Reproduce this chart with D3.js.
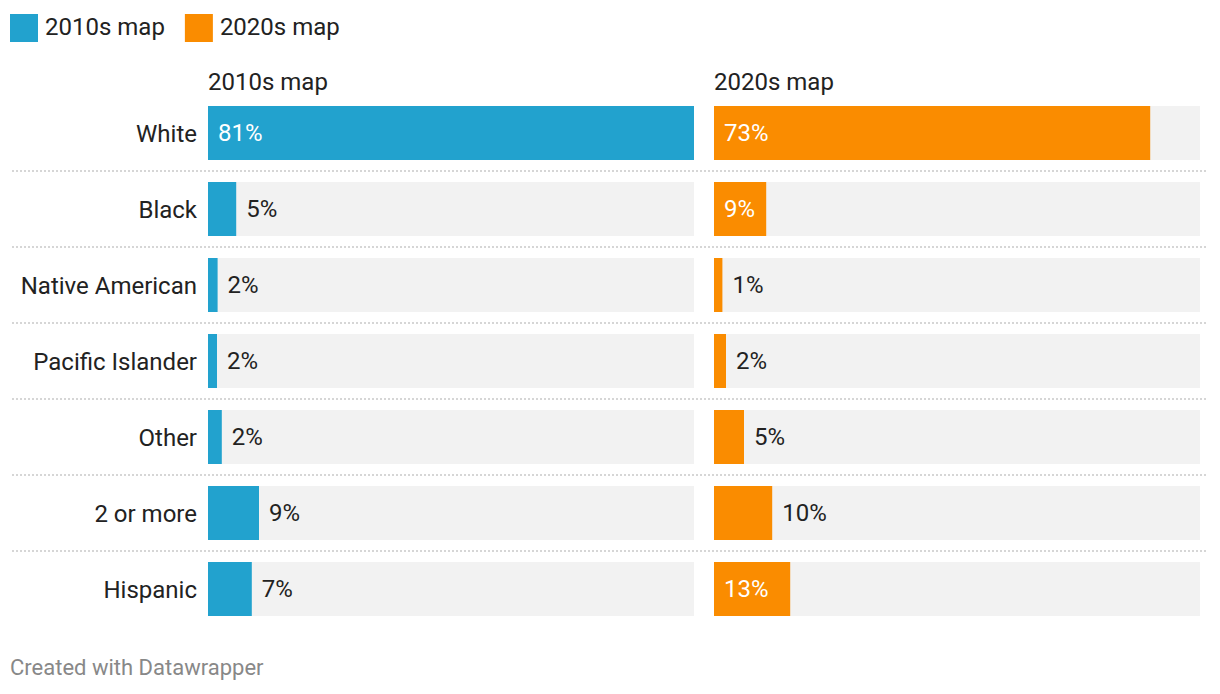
<!DOCTYPE html>
<html><head><meta charset="utf-8">
<script src="https://cdn.jsdelivr.net/npm/d3@7"></script>
<style>
body{margin:0;background:#fff;}
svg{font-family:Roboto,"Noto Sans",sans-serif;}
</style></head>
<body><svg id="c" width="1220" height="694"></svg>
<script>
const categories = ["White","Black","Native American","Pacific Islander","Other","2 or more","Hispanic"];
const seriesNames = ["2010s map","2020s map"];
const values2010 = [81, 4.7, 1.6, 1.5, 2.3, 8.5, 7.3];
const values2020 = [72.7, 8.7, 1.4, 2.0, 5.0, 9.7, 12.7];
const colors = ["#22a2ce","#fa8c00"];
const footer = "Created with Datawrapper";

const svg = d3.select("#c");
const y = d3.scaleBand().domain(categories).range([106, 616]).paddingInner(22/76).paddingOuter(0);
const xs = [d3.scaleLinear().domain([0,81]).range([208,694]),
            d3.scaleLinear().domain([0,81]).range([714,1200])];
const series = [values2010, values2020];
const fmt = v => Math.round(v) + "%";
const FS = 24;

// legend
const lg = svg.append("g");
let lx = 10;
seriesNames.forEach((n,i)=>{
  lg.append("rect").attr("x",lx).attr("y",14).attr("width",28).attr("height",28).attr("fill",colors[i]);
  const t = lg.append("text").attr("x",lx+35).attr("y",35).attr("font-size",FS).attr("fill","#222").text(n);
  lx += 35 + t.node().getComputedTextLength() + 20;
});

// separators
categories.slice(0,-1).forEach(c=>{
  const yy = y(c)+y.bandwidth()+11;
  svg.append("line").attr("x1",12).attr("x2",1208).attr("y1",yy).attr("y2",yy)
    .attr("stroke","#d6d6d6").attr("stroke-width",2).attr("stroke-dasharray","2,2");
});

// row labels
svg.selectAll(".rl").data(categories).join("text")
  .attr("x",197).attr("y",c=>y(c)+y.bandwidth()/2+9).attr("text-anchor","end")
  .attr("font-size",FS).attr("fill","#222").text(c=>c);

series.forEach((vals,si)=>{
  const x = xs[si];
  const g = svg.append("g");
  g.append("text").attr("x",x.range()[0]).attr("y",90).attr("font-size",FS).attr("fill","#222").text(seriesNames[si]);
  g.selectAll(".bg").data(categories).join("rect")
    .attr("x",x.range()[0]).attr("y",c=>y(c)).attr("width",x.range()[1]-x.range()[0]).attr("height",y.bandwidth()).attr("fill","#f2f2f2");
  g.selectAll(".bar").data(vals).join("rect")
    .attr("x",x(0)).attr("y",(v,i)=>y(categories[i])).attr("width",v=>x(v)-x(0)).attr("height",y.bandwidth()).attr("fill",colors[si]);
  vals.forEach((v,i)=>{
    const w = x(v)-x(0);
    const t = g.append("text").attr("y",y(categories[i])+y.bandwidth()/2+8).attr("font-size",FS).text(fmt(v));
    const tw = t.node().getComputedTextLength();
    if (w - tw > 21) t.attr("x",x(0)+10).attr("fill","#fff");
    else t.attr("x",x(v)+10).attr("fill","#222");
  });
});

svg.append("text").attr("x",10).attr("y",675).attr("font-size",22).attr("fill","#888").text(footer);
</script></body></html>
